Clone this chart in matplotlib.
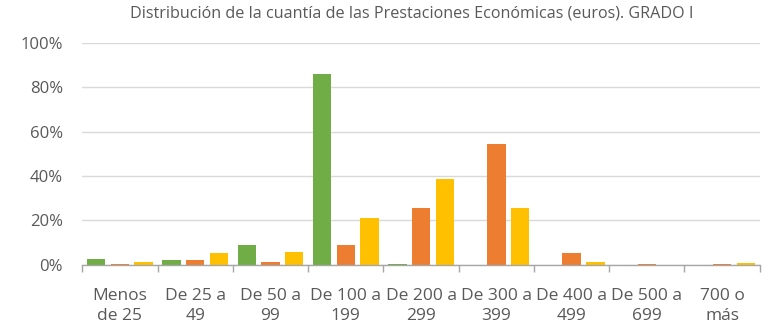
import numpy as np
import matplotlib.pyplot as plt
from matplotlib.ticker import FuncFormatter

plt.rcParams['font.family'] = ['Open Sans', 'DejaVu Sans']

categories = ["Menos\nde 25", "De 25 a\n49", "De 50 a\n99", "De 100 a\n199", "De 200 a\n299",
              "De 300 a\n399", "De 400 a\n499", "De 500 a\n699", "700 o\nmás"]
serie_verde = [2.7, 2.1, 8.9, 86.0, 0.2, 0.1, 0.0, 0.0, 0.0]
serie_naranja = [0.6, 2.2, 1.5, 9.0, 25.7, 54.4, 5.3, 0.4, 0.4]
serie_amarilla = [1.3, 5.3, 5.7, 20.9, 38.6, 25.5, 1.2, 0.1, 0.8]

colores = ["#70AD47", "#ED7D31", "#FFC000"]
gris = "#595959"

fig = plt.figure(figsize=(7.69, 3.23), dpi=100)
ax = fig.add_axes([0.107, 0.180, 0.881, 0.687])

x = np.arange(len(categories))
ancho = 0.245
paso = 0.315
for i, (serie, color) in enumerate(zip([serie_verde, serie_naranja, serie_amarilla], colores)):
    ax.bar(x + (i - 1) * paso, serie, width=ancho, color=color, zorder=3)

ax.set_xlim(-0.5, len(categories) - 0.5)
ax.set_ylim(0, 100)
ax.set_yticks(np.arange(0, 101, 20))
ax.yaxis.set_major_formatter(FuncFormatter(lambda v, _: f"{v:.0f}%"))
ax.grid(axis="y", color="#D9D9D9", linewidth=1, zorder=0)

# etiquetas centradas, marcas entre categorías
ax.set_xticks(x)
ax.set_xticklabels(categories, linespacing=1.3)
ax.set_xticks(np.arange(-0.5, len(categories), 1), minor=True)
ax.tick_params(axis="x", which="major", length=0, pad=17, labelsize=12.5, colors=gris)
ax.tick_params(axis="x", which="minor", length=5, width=1, color="#A6A6A6")
ax.tick_params(axis="y", length=0, pad=14, labelsize=12, colors=gris)

for lado in ["top", "right", "left"]:
    ax.spines[lado].set_visible(False)
ax.spines["bottom"].set_color("#A6A6A6")
ax.spines["bottom"].set_linewidth(1)
ax.spines["bottom"].set_zorder(4)

fig.text(0.536, 0.957, "Distribución de la cuantía de las Prestaciones Económicas (euros). GRADO I",
         ha="center", va="center", fontsize=11.6, color=gris)

fig.savefig("out.png", dpi=100)
